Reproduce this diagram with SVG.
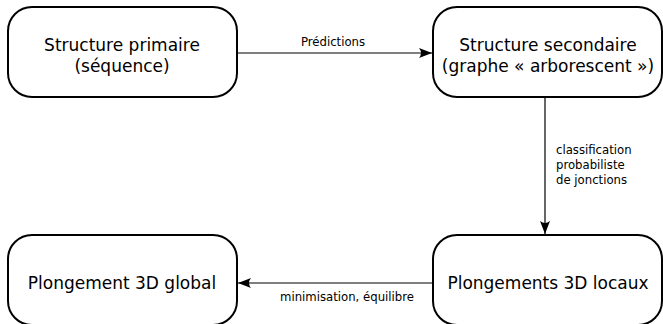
<svg xmlns="http://www.w3.org/2000/svg" width="663" height="324" viewBox="0 0 663 324">
<style>
.box{fill:#fff;stroke:#000;stroke-width:2}
.t{font-family:"DejaVu Sans",sans-serif;font-size:17px;fill:#000;text-anchor:middle}
.s{font-family:"DejaVu Sans",sans-serif;font-size:11.7px;fill:#000}
.c{fill:none;stroke:#000;stroke-width:1.2}
</style>
<defs>
<marker id="ah" viewBox="0 0 14 10" refX="13" refY="5" markerWidth="14" markerHeight="10" markerUnits="userSpaceOnUse" orient="auto">
<path d="M13,5 L0,0 Q4,5 0,10 Z" fill="#000"/>
</marker>
</defs>
<g id="n1"><rect class="box" x="8" y="7" width="229" height="90" rx="24"/>
<text class="t" x="122" y="51">Structure primaire</text><text class="t" x="122" y="72">(séquence)</text></g>
<g id="n2"><rect class="box" x="433" y="7" width="229" height="90" rx="24"/>
<text class="t" x="548" y="51">Structure secondaire</text><text class="t" x="548" y="72">(graphe « arborescent »)</text></g>
<g id="n3"><rect class="box" x="8" y="235" width="229" height="90" rx="24"/>
<text class="t" x="122" y="289">Plongement 3D global</text></g>
<g id="n4"><rect class="box" x="433" y="235" width="229" height="90" rx="24"/>
<text class="t" x="548" y="289">Plongements 3D locaux</text></g>
<g id="connectors">
<path class="c" d="M237,53 H432" marker-end="url(#ah)"/>
<text class="s" x="333" y="46" text-anchor="middle">Prédictions</text>
<path class="c" d="M545,97 V234" marker-end="url(#ah)"/>
<text class="s" x="556" y="154">classification</text>
<text class="s" x="556" y="169">probabiliste</text>
<text class="s" x="556" y="184">de jonctions</text>
<path class="c" d="M433,283 H238" marker-end="url(#ah)"/>
<text class="s" x="347" y="301" text-anchor="middle">minimisation, équilibre</text>
</g>
</svg>
